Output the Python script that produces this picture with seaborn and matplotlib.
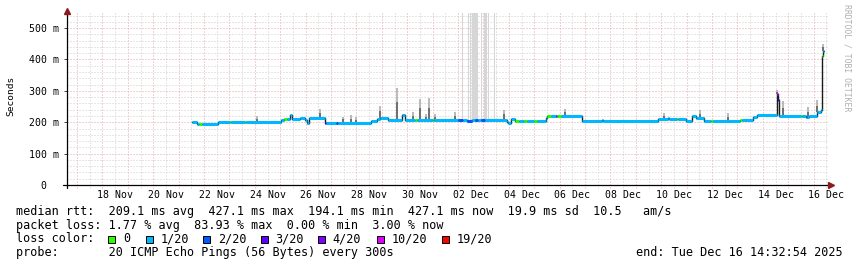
import numpy as np
import matplotlib
matplotlib.use("Agg")
import matplotlib.pyplot as plt
import matplotlib.dates as mdates
from matplotlib.patches import Rectangle
from matplotlib.lines import Line2D
import seaborn as sns
from datetime import datetime

# ---------------- data ----------------
START = datetime(2025, 11, 16, 14, 32, 54)
SPAN_DAYS = 30

# median rtt steps: start (days since START), value (ms), lost pings (of 20)
MED_T = [4.92, 5.10, 5.20, 5.30, 5.95, 6.40, 6.45, 7.00, 7.05, 8.44, 8.55, 8.66,
         8.77, 8.87, 9.16, 9.36, 9.45, 9.52, 10.15, 10.20, 10.58, 10.66, 11.98,
         12.19, 12.31, 12.62, 13.20, 13.30, 13.72, 13.78, 14.40, 14.45, 15.38,
         15.60, 15.75, 15.95, 16.05, 16.20, 16.30, 16.45, 17.31, 17.36, 17.49,
         17.64, 17.80, 18.00, 18.10, 18.40, 18.50, 18.84, 18.90, 19.05, 19.25,
         19.30, 19.45, 20.26, 21.05, 21.10, 23.25, 23.65, 23.72, 24.00, 24.06,
         24.37, 24.62, 24.77, 25.09, 25.35, 25.45, 26.07, 26.50, 26.56, 26.99,
         27.17, 27.95, 28.00, 28.04, 28.88, 28.94, 29.09, 29.15, 29.22, 29.54,
         29.68, 29.72, 29.76]
MED_MS = [200, 194, 194, 194, 201, 201, 201, 201, 201, 206, 210, 210,
          224, 210, 215, 207, 199, 214, 198, 198, 198, 198, 203,
          209, 214, 207, 222, 207, 207, 207, 207, 207, 207,
          207, 205, 207, 207, 207, 208, 208, 201, 197, 209,
          203, 203, 203, 203, 203, 203, 212, 221, 221, 221,
          221, 221, 204, 207, 204, 209, 213, 209, 209, 209,
          205, 220, 212, 205, 205, 205, 204, 207, 207, 216,
          222, 290, 272, 221, 221, 221, 216, 216, 221, 232,
          239, 410, 427]
MED_LOSS = [1, 1, 0, 1, 1, 0, 1, 0, 1, 1, 0, 1,
            1, 1, 1, 1, 1, 1, 3, 1, 2, 1, 1,
            1, 1, 1, 1, 1, 0, 1, 0, 1, 2,
            1, 2, 1, 2, 1, 2, 1, 1, 1, 1,
            0, 1, 0, 1, 0, 1, 1, 0, 1, 3,
            0, 1, 1, 1, 1, 1, 1, 1, 0, 1,
            1, 1, 1, 1, 0, 1, 1, 0, 1, 1,
            1, 10, 3, 1, 0, 1, 2, 1, 1, 1,
            1, 0, 1]
MED_END = 29.81

# smoke spikes above the median (days since START, top ms)
SMOKE_T = [7.47, 9.95, 10.85, 11.20, 11.39, 12.31, 12.98, 13.61, 13.88, 14.14,
           14.27, 14.48, 15.27, 17.20, 19.61, 23.52, 24.93, 26.04, 27.97, 28.17,
           29.19, 29.54, 29.76]
SMOKE_TOP_MS = [220, 241, 218, 222, 216, 251, 309, 232, 275, 225,
                277, 226, 233, 239, 241, 228, 239, 228, 302, 268,
                249, 270, 450]

# very slow pings reaching beyond the chart top
HIGH_T = [15.57, 15.77, 15.80, 15.87, 15.95, 15.99, 16.03, 16.07, 16.12, 16.16,
          16.31, 16.40, 16.44, 16.50, 16.56, 16.83]
HIGH_TOP_MS = [600, 600, 600, 600, 600, 600, 600, 600, 600, 600,
               600, 600, 600, 600, 600, 600]

LOSS_LEVELS = [0, 1, 2, 3, 4, 10, 19]
LOSS_LABELS = ["0", "1/20", "2/20", "3/20", "4/20", "10/20", "19/20"]
LOSS_COLORS = ["#26ff00", "#00b8ff", "#0059ff", "#5e00ff", "#7e00ff", "#dd00ff", "#ff0000"]

Y_TICKS_MS = [0, 100, 200, 300, 400, 500]
Y_TICK_LABELS = ["0  ", "100 m", "200 m", "300 m", "400 m", "500 m"]

STATS_RTT = "median rtt:  209.1 ms avg  427.1 ms max  194.1 ms min  427.1 ms now  19.9 ms sd  10.5   am/s"
STATS_LOSS = "packet loss: 1.77 % avg  83.93 % max  0.00 % min  3.00 % now"
LOSS_TITLE = "loss color:"
PROBE = "probe:       20 ICMP Echo Pings (56 Bytes) every 300s"
END_TXT = "end: Tue Dec 16 14:32:54 2025"
Y_LABEL = "Seconds"
WATERMARK = "RRDTOOL / TOBI OETIKER"

# ---------------- drawing ----------------
sns.set_theme(style="white")
plt.rcParams['font.family'] = ['DejaVu Sans Mono', 'DejaVu Sans']

W, H = 857, 267
fig = plt.figure(figsize=(W / 100, H / 100), dpi=100, facecolor="white")
L, R, T, B = 67, 829, 13, 185
ax = fig.add_axes([L / W, 1 - B / H, (R - L) / W, (B - T) / H])
ax.set_facecolor("white")
for s in ax.spines.values():
    s.set_visible(False)

t0 = mdates.date2num(START)
x0, x1 = t0, t0 + SPAN_DAYS
ymax = 0.548
ax.set_xlim(x0, x1)
ax.set_ylim(0, ymax)

px_y = 1.0 / (B - T)
px_x = 1.0 / (R - L)
dots = (0, (1.0, 2.0))
minor_c = "#cfcfcf"
major_c = "#e4a4a4"
glw = 0.72

midnights = np.arange(np.ceil(x0), x1, 1.0)
noons = np.arange(np.ceil(x0 - 0.5) + 0.5, x1, 1.0)
ax.vlines(noons, -3 * px_y, 1, transform=ax.get_xaxis_transform(), colors=minor_c,
          linestyles=dots, lw=glw, clip_on=False, zorder=0)
ax.vlines(midnights, -3 * px_y, 1, transform=ax.get_xaxis_transform(), colors=major_c,
          linestyles=dots, lw=glw, clip_on=False, zorder=0)
minor_y = [v / 1000 for v in range(20, 541, 20) if v % 100 != 0]
major_y = [v / 1000 for v in Y_TICKS_MS if v > 0]
ax.hlines(minor_y, 0, 1, transform=ax.get_yaxis_transform(), colors=minor_c,
          linestyles=dots, lw=glw, zorder=0)
ax.hlines(major_y, 0, 1, transform=ax.get_yaxis_transform(), colors=major_c,
          linestyles=dots, lw=glw, zorder=0)

# smoke
med_t = np.array(MED_T)
med_v = np.array(MED_MS) / 1000.0
st = np.array(SMOKE_T)
base = med_v[np.searchsorted(med_t, st, side="right") - 1]
top = np.array(SMOKE_TOP_MS) / 1000.0
ax.vlines(t0 + st, base, top, colors="#b4b4b4", lw=1.3, zorder=2)
ax.vlines(t0 + st, base, base + (top - base) * 0.55, colors="#6a6a6a", lw=1.3, zorder=2)
ht = np.array(HIGH_T)
hbase = med_v[np.searchsorted(med_t, ht, side="right") - 1]
ax.vlines(t0 + ht, hbase, np.array(HIGH_TOP_MS) / 1000.0, colors="#d6d6d6", lw=0.75, zorder=1)

# median line: thin dark steps, then thick loss-coloured levels
xs = np.append(t0 + med_t, t0 + MED_END)
ys = np.append(med_v, med_v[-1])
sns.lineplot(x=xs, y=ys, drawstyle="steps-post", color="#1a1a1a", lw=1.0,
             estimator=None, sort=False, ax=ax, zorder=4)
cmap = dict(zip(LOSS_LEVELS, LOSS_COLORS))
ax.hlines(med_v, xs[:-1], xs[1:], colors=[cmap[l] for l in MED_LOSS], lw=2.2, zorder=5)

# axes lines and arrows
ax.add_line(Line2D([-4 * px_x, 1], [0, 0], transform=ax.transAxes, color="black",
                   lw=0.9, clip_on=False, zorder=6))
ax.add_line(Line2D([0, 0], [-3 * px_y, 1], transform=ax.transAxes, color="black",
                   lw=0.9, clip_on=False, zorder=6))
ax.plot([0], [1 + 2.5 * px_y], marker="^", ms=4.2, color="#8b1a1a", transform=ax.transAxes,
        clip_on=False, zorder=7)
ax.plot([1 + 2.5 * px_x], [0], marker=">", ms=4.2, color="#8b1a1a", transform=ax.transAxes,
        clip_on=False, zorder=7)

# ticks
label_dates = np.arange(np.ceil(x0 + 1) + 0.5, x1, 2.0)
ax.set_xticks(label_dates)
ax.set_xticklabels([mdates.num2date(d).strftime("%d %b") for d in label_dates])
ax.set_yticks([v / 1000 for v in Y_TICKS_MS])
ax.set_yticklabels(Y_TICK_LABELS)
ax.tick_params(axis="x", length=0, pad=3.5, labelsize=7.1, labelcolor="black")
ax.tick_params(axis="y", length=2.5, width=0.7, color="#444444", pad=3,
               labelsize=7.1, labelcolor="black", left=True)
ax.set_xlabel("")
ax.set_ylabel("")
ax.grid(False)

fs = 8.45
def ftext(x, y, s, **kw):
    fig.text(x / W, 1 - y / H, s, fontsize=kw.pop("fontsize", fs), va=kw.pop("va", "center"),
             ha=kw.pop("ha", "left"), color=kw.pop("color", "black"), **kw)

ftext(11, 96, Y_LABEL, rotation=90, ha="center", fontsize=6.8)
ftext(847, 4, WATERMARK, rotation=270, ha="center", va="top", fontsize=5.9, color="#b0b0b0")
ftext(16, 211.5, STATS_RTT)
ftext(16, 225.2, STATS_LOSS)
ftext(16, 238.9, LOSS_TITLE)
box_x = [108.3, 145.7, 203.3, 261.0, 318.3, 377.3, 442.3]
for bx, lab, col in zip(box_x, LOSS_LABELS, LOSS_COLORS):
    fig.patches.append(Rectangle((bx / W, 1 - 242.5 / H), 7 / W, 7 / H, transform=fig.transFigure,
                                 facecolor=col, edgecolor="black", lw=0.7))
    ftext(bx + 14.5, 238.9, lab)
ftext(16, 252.6, PROBE)
ftext(843, 252.6, END_TXT, ha="right")

fig.savefig("out.png", dpi=100, facecolor="white")
